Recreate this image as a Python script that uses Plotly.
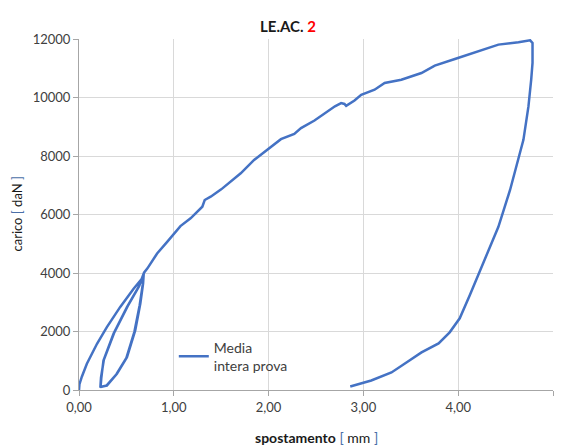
import plotly.graph_objects as go

# --- data ---
# initial loading up to first peak
load1_x = [0.0, 0.005, 0.03, 0.083, 0.19, 0.294, 0.435, 0.576, 0.665, 0.683]
load1_y = [0, 200, 455, 900, 1580, 2150, 2840, 3465, 3810, 3985]
# unloading (right side of lens) and reloading (left side), repeated cycles
unload_x = [0.683, 0.676, 0.647, 0.593, 0.506, 0.40, 0.294, 0.235, 0.228]
unload_y = [3985, 3640, 2955, 2040, 1124, 555, 154, 110, 120]
reload_x = [0.228, 0.235, 0.258, 0.364, 0.506, 0.629, 0.683]
reload_y = [120, 400, 1011, 1925, 2838, 3524, 3985]
unload2_x = [0.683, 0.672, 0.640, 0.585, 0.500, 0.395, 0.290, 0.232, 0.226]
unload2_y = [3985, 3600, 2900, 2000, 1100, 540, 150, 105, 115]
reload2_x = [0.226, 0.232, 0.262, 0.370, 0.512, 0.634, 0.686]
reload2_y = [115, 420, 1030, 1950, 2860, 3550, 4010]
# main loading branch to the peak
main_x = [0.686, 0.72, 0.824, 0.930, 1.070, 1.177, 1.301, 1.326, 1.389, 1.50, 1.600, 1.706,
          1.847, 1.964, 1.985, 2.130, 2.271, 2.342, 2.484, 2.60, 2.70, 2.765, 2.800, 2.818,
          2.906, 2.977, 3.118, 3.224, 3.400, 3.612, 3.753, 3.965, 4.177, 4.424, 4.636, 4.759]
main_y = [4010, 4150, 4668, 5066, 5604, 5868, 6266, 6495, 6609, 6860, 7123, 7410,
          7866, 8151, 8230, 8576, 8758, 8953, 9214, 9480, 9700, 9808, 9780, 9716,
          9898, 10094, 10265, 10494, 10609, 10838, 11088, 11318, 11545, 11808, 11887, 11956]
# final unloading branch
final_x = [4.759, 4.784, 4.784, 4.770, 4.741, 4.688, 4.625, 4.547, 4.424, 4.323, 4.228,
           4.122, 4.016, 3.910, 3.793, 3.666, 3.613, 3.454, 3.296, 3.083, 2.924, 2.861]
final_y = [11956, 11866, 11181, 10608, 9694, 8552, 7752, 6838, 5580, 4782, 4028,
           3240, 2451, 1971, 1594, 1388, 1285, 943, 600, 326, 189, 120]

x_ticks = [0, 1, 2, 3, 4, 5]
y_ticks = [0, 2000, 4000, 6000, 8000, 10000, 12000]

xs = load1_x + unload_x[1:] + reload_x[1:] + unload2_x[1:] + reload2_x[1:] + main_x[1:] + final_x[1:]
ys = load1_y + unload_y[1:] + reload_y[1:] + unload2_y[1:] + reload2_y[1:] + main_y[1:] + final_y[1:]

FONT = "Lato"
fig = go.Figure()
fig.add_trace(go.Scatter(
    x=xs, y=ys, mode="lines", name="Media<br>intera prova",
    line=dict(color="#4472C4", width=2.5),
))

# page body has an 8px margin, so the figure is sized to fill the window from (8,8)
fig.update_layout(
    width=555, height=440,
    margin=dict(l=71, r=10, t=31, b=58, autoexpand=False),
    paper_bgcolor="white", plot_bgcolor="white",
    separators=",.",
    font=dict(family=FONT, size=12, color="#404040"),
    showlegend=True,
    legend=dict(x=0.2, y=0.095, xanchor="left", yanchor="middle",
                bgcolor="rgba(0,0,0,0)", font=dict(size=14, color="#404040"),
                itemwidth=30),
    annotations=[
        dict(text="<b>LE.AC. <span style='color:#ff0000'>2</span></b>", xref="paper", yref="paper",
             x=0.44, y=1.0, yshift=24, showarrow=False, xanchor="center",
             font=dict(family=FONT, size=15, color="#1a1a1a")),
        dict(text="<b>spostamento</b> <span style='color:#4a6fa8'>[</span> mm <span style='color:#4a6fa8'>]</span>",
             xref="paper", yref="paper", x=0.5, y=0, yshift=-47, showarrow=False,
             xanchor="center", yanchor="middle", font=dict(family=FONT, size=14, color="#1a1a1a")),
        dict(text="carico <span style='color:#4a6fa8'>[</span> daN <span style='color:#4a6fa8'>]</span>",
             xref="paper", yref="paper", x=0, xshift=-63, y=0.5, showarrow=False,
             xanchor="center", yanchor="middle",
             textangle=-90, font=dict(family=FONT, size=13, color="#1a1a1a")),
    ],
)
fig.update_xaxes(range=[0, 5], tickvals=x_ticks, tickformat=".2f", automargin=False,
                 showgrid=True, gridcolor="#d9d9d9", gridwidth=1,
                 showline=True, linecolor="#a6a6a6", linewidth=1,
                 ticks="outside", ticklen=5, tickcolor="#a6a6a6",
                 zeroline=False, tickfont=dict(size=13, color="#404040"))
fig.update_yaxes(range=[0, 12000], tickvals=y_ticks, tickformat="d", automargin=False,
                 showgrid=True, gridcolor="#d9d9d9", gridwidth=1,
                 showline=True, linecolor="#a6a6a6", linewidth=1,
                 ticks="outside", ticklen=5, tickcolor="#a6a6a6",
                 zeroline=False, tickfont=dict(size=13, color="#404040"))

fig.write_html("out.html")
